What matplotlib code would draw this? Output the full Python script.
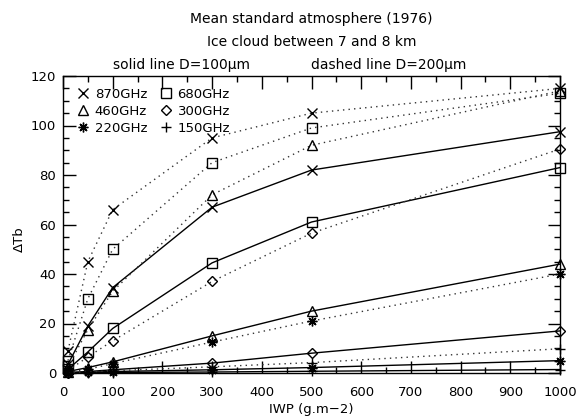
import matplotlib
matplotlib.use("Agg")
import matplotlib.pyplot as plt
from matplotlib.lines import Line2D
from matplotlib.ticker import MultipleLocator

iwp = [10, 50, 100, 300, 500, 1000]

freqs = ["870GHz", "680GHz", "460GHz", "300GHz", "220GHz", "150GHz"]

# D = 100 micron (solid)
solid_870 = [3.5, 19, 34.5, 67, 82, 97.5]
solid_680 = [1.5, 8.5, 18, 44.5, 61, 83]
solid_460 = [0.6, 2.2, 4.5, 15, 25, 44]
solid_300 = [0.2, 0.6, 1.3, 4, 8, 17]
solid_220 = [0.1, 0.3, 0.6, 1.3, 2.2, 5]
solid_150 = [0.0, 0.1, 0.2, 0.4, 0.7, 1.4]

# D = 200 micron (dashed)
dashed_870 = [9, 45, 66, 95, 105, 115]
dashed_680 = [5, 30, 50, 85, 99, 113]
dashed_460 = [2.5, 17.5, 33, 72, 92, 114]
dashed_300 = [1, 6.5, 13, 37, 56.5, 90.5]
dashed_220 = [0.3, 1.5, 3.8, 12.5, 21, 40]
dashed_150 = [0.1, 0.4, 0.9, 2.5, 4.2, 9.8]

markers = {"870GHz": "x", "680GHz": "s", "460GHz": "^",
           "300GHz": "D", "220GHz": (8, 2, 0), "150GHz": "+"}
msizes = {"870GHz": 7, "680GHz": 6.5, "460GHz": 6.5,
          "300GHz": 4.8, "220GHz": 7, "150GHz": 7}

solid = [solid_870, solid_680, solid_460, solid_300, solid_220, solid_150]
dashed = [dashed_870, dashed_680, dashed_460, dashed_300, dashed_220, dashed_150]

plt.rcParams['font.family'] = ['DejaVu Sans']
plt.rcParams['font.size'] = 9.5

fig = plt.figure(figsize=(5.78, 4.17), dpi=100)
ax = fig.add_axes([63/578, 1-373/417, (560-63)/578, (373-76)/417])

for f, ys in zip(freqs, solid):
    ax.plot(iwp, ys, color='black', lw=1.0, marker=markers[f], ms=msizes[f],
            mfc='none', mec='black', mew=1.0, clip_on=False)
for f, ys in zip(freqs, dashed):
    ax.plot(iwp, ys, color='#333333', lw=1.0, linestyle=(0, (1, 3.0)),
            marker=markers[f], ms=msizes[f],
            mfc='none', mec='black', mew=1.0, clip_on=False)

ax.set_xlim(0, 1000)
ax.set_ylim(0, 120)
ax.xaxis.set_major_locator(MultipleLocator(100))
ax.xaxis.set_minor_locator(MultipleLocator(50))
ax.yaxis.set_major_locator(MultipleLocator(20))
ax.yaxis.set_minor_locator(MultipleLocator(5))
ax.tick_params(which='both', direction='in', top=True, right=True,
               color='black', width=1.0)
ax.tick_params(which='major', length=9)
ax.tick_params(axis='x', which='major', pad=9)
ax.tick_params(axis='y', which='major', pad=5)
ax.tick_params(which='minor', length=4.5)
for s in ax.spines.values():
    s.set_linewidth(1.0)

ax.set_xlabel("IWP (g.m−2)")
ax.xaxis.set_label_coords(0.5, -0.1)
ax.set_ylabel("ΔTb")
ax.yaxis.set_label_coords(-0.075, 0.45)

order = ["870GHz", "460GHz", "220GHz", "680GHz", "300GHz", "150GHz"]
handles = [Line2D([], [], linestyle='none', marker=markers[f], ms=msizes[f],
                  mfc='none', mec='black', mew=1.0) for f in order]
ax.legend(handles, order, ncol=2, loc='upper left', frameon=False,
          handletextpad=0.3, columnspacing=0.8, labelspacing=0.3,
          borderaxespad=0.5, handlelength=1.2, fontsize=9.5)

cx = (63 + 560) / 2 / 578
fig.text(cx, 1-19/417, "Mean standard atmosphere (1976)", ha='center', va='center',
         fontsize=10)
fig.text(cx, 1-42/417, "Ice cloud between 7 and 8 km", ha='center', va='center',
         fontsize=10)
fig.text(113/578, 1-65/417, "solid line D=100μm", ha='left', va='center', fontsize=10)
fig.text(311/578, 1-65/417, "dashed line D=200μm", ha='left', va='center', fontsize=10)

fig.savefig("out.png", dpi=100)
